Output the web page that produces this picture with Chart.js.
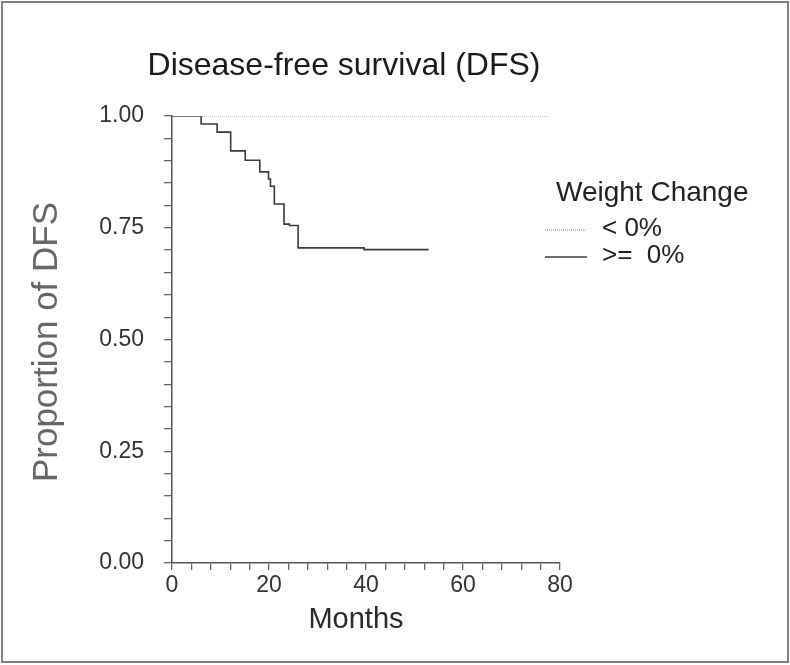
<!DOCTYPE html>
<html>
<head>
<meta charset="utf-8">
<script src="https://cdn.jsdelivr.net/npm/chart.js@4/dist/chart.umd.min.js"></script>
<style>
  html, body { margin: 0; padding: 0; background: #fff; }
  #wrap { width: 790px; height: 665px; }
</style>
</head>
<body>
<div id="wrap"><canvas id="myChart" width="790" height="665"></canvas></div>
<script>
// Kaplan-Meier curves
var ltMonths = [0, 77.5];
var ltSurv = [1, 1];

var geMonths = [0, 6.0, 9.3, 12.1, 15.1, 18.1, 19.9, 20.3, 21.1, 23.1, 24.2, 26.0, 39.6, 52.9];
var geSurv = [1, 0.982, 0.964, 0.922, 0.901, 0.875, 0.859, 0.843, 0.803, 0.758, 0.755, 0.705, 0.701, 0.701];

var seriesLabels = ["< 0%", ">=  0%"];
var xTickLabels = [0, 20, 40, 60, 80];
var yTickLabels = [0, 0.25, 0.5, 0.75, 1];

var FONT = "'Liberation Sans', Arial, sans-serif";

function toPoints(xs, ys) {
    return xs.map(function (x, i) { return { x: x, y: ys[i] }; });
}

// titles, legend and frame drawn on the canvas
var extras = {
    id: "extras",
    afterDraw: function (chart) {
        var c = chart.ctx;
        c.save();
        c.strokeStyle = "#808080";
        c.lineWidth = 2;
        c.strokeRect(2, 2, 786, 660);

        c.fillStyle = "#1a1a1a";
        c.textAlign = "center";
        c.textBaseline = "middle";
        c.font = "32px " + FONT;
        c.fillText("Disease-free survival (DFS)", 344, 66);

        c.fillStyle = "#2a2a2a";
        c.font = "29px " + FONT;
        c.fillText("Months", 356, 620);

        c.save();
        c.translate(47, 342);
        c.rotate(-Math.PI / 2);
        c.fillStyle = "#666";
        c.font = "35px " + FONT;
        c.fillText("Proportion of DFS", 0, 0);
        c.restore();

        // legend
        c.textAlign = "left";
        c.fillStyle = "#222";
        c.font = "28px " + FONT;
        c.fillText("Weight Change", 556, 193);
        var rows = [229, 256];
        chart.data.datasets.forEach(function (ds, i) {
            c.beginPath();
            c.strokeStyle = ds.borderColor;
            c.lineWidth = ds.borderWidth;
            c.setLineDash(ds.borderDash || []);
            c.moveTo(545, rows[i] + 1);
            c.lineTo(587, rows[i] + 1);
            c.stroke();
            c.setLineDash([]);
            c.fillStyle = "#222";
            c.font = "26px " + FONT;
            c.fillText(ds.label, 602, rows[i]);
        });
        c.restore();
    }
};

var myChart = document.getElementById("myChart").getContext("2d");

var kmChart = new Chart(myChart, {
    type: "line",
    data: {
        datasets: [{
            label: seriesLabels[0],
            data: toPoints(ltMonths, ltSurv),
            borderColor: "#8a8a8a",
            borderWidth: 1,
            borderDash: [1, 1],
            pointRadius: 0,
            stepped: true,
            fill: false
        }, {
            label: seriesLabels[1],
            data: toPoints(geMonths, geSurv),
            borderColor: "#3a3a3a",
            borderWidth: 1.6,
            pointRadius: 0,
            stepped: true,
            fill: false
        }]
    },
    options: {
        responsive: false,
        animation: false,
        layout: { padding: { left: 0, right: 230, top: 116, bottom: 0 } },
        plugins: {
            legend: { display: false },
            tooltip: { enabled: false }
        },
        scales: {
            x: {
                type: "linear",
                min: 0,
                max: 80,
                afterFit: function (s) { s.height = 102; },
                ticks: {
                    stepSize: 4,
                    autoSkip: false,
                    maxRotation: 0,
                    padding: 2,
                    color: "#333",
                    font: { family: FONT, size: 23 },
                    callback: function (v) { return xTickLabels.indexOf(v) >= 0 ? String(v) : ""; }
                },
                grid: { drawOnChartArea: false, drawTicks: true, tickLength: 7, color: "#666", lineWidth: 1.3 },
                border: { display: true, color: "#555", width: 1.5 }
            },
            y: {
                type: "linear",
                min: 0,
                max: 1,
                afterFit: function (s) { s.width = 172; },
                ticks: {
                    stepSize: 0.05,
                    autoSkip: false,
                    padding: 20,
                    color: "#333",
                    font: { family: FONT, size: 23 },
                    callback: function (v) {
                        var r = Math.round(v * 100) / 100;
                        return yTickLabels.indexOf(r) >= 0 ? r.toFixed(2) : "";
                    }
                },
                grid: { drawOnChartArea: false, drawTicks: true, tickLength: 8, color: "#666", lineWidth: 1.3 },
                border: { display: true, color: "#555", width: 1.5 }
            }
        }
    },
    plugins: [extras]
});
</script>
</body>
</html>
